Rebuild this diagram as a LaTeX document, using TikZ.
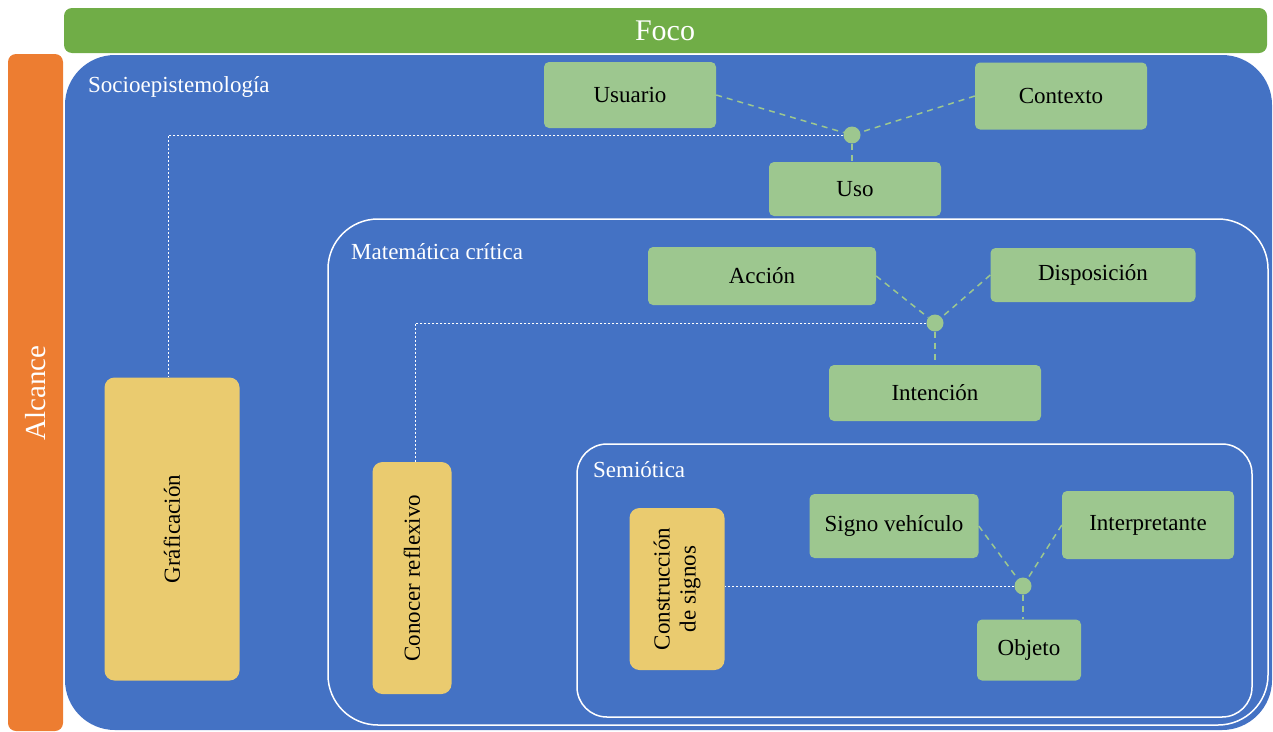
\documentclass[tikz,border=0pt]{standalone}
\usepackage{fontspec}
\setmainfont{Liberation Serif}
\definecolor{fondo}{HTML}{4472C4}
\definecolor{barra}{HTML}{70AD47}
\definecolor{naranja}{HTML}{ED7D31}
\definecolor{verde}{HTML}{9DC78F}
\definecolor{amarillo}{HTML}{EACB6F}
\begin{document}
\begin{tikzpicture}[x=1pt, y=-1pt,
  caja/.style={fill=verde, rounded corners=5pt, inner sep=0pt,
    font=\fontsize{23}{27}\selectfont},
  vertical/.style={fill=amarillo, rounded corners=10pt, inner sep=0pt,
    font=\fontsize{23}{26}\selectfont},
  punto/.style={circle, fill=verde, inner sep=0pt, minimum size=17pt},
  titulo/.style={anchor=west, text=white, inner sep=0pt,
    font=\fontsize{23}{27}\selectfont},
  enlace/.style={verde, line width=1.5pt, dash pattern=on 6pt off 5pt},
  guia/.style={white, line width=0.8pt, dash pattern=on 2pt off 2pt}]
\useasboundingbox (0,0) rectangle (1273,731);

\fill[barra, rounded corners=8pt] (64,8) rectangle (1267,53);
\node[text=white, font=\fontsize{30}{34}\selectfont] (foco) at (665,31) {Foco};
\fill[naranja, rounded corners=8pt] (8,54) rectangle (63,731);
\node[text=white, rotate=90, font=\fontsize{29}{33}\selectfont] (alcance) at (36,393) {Alcance};

\fill[fondo, rounded corners=50pt] (65,55) rectangle (1272,730);
\draw[white, line width=1.5pt, rounded corners=50pt] (328,219) rectangle (1268,725);
\draw[white, line width=1.5pt, rounded corners=30pt] (577,444) rectangle (1252,717);

\node[titulo] (socio) at (88,87) {Socioepistemología};
\node[titulo] (mate) at (351,252) {Matemática crítica};
\node[titulo] (semio) at (593,470) {Semiótica};

\node[caja, minimum width=172pt, minimum height=66pt] (usuario) at (630,95) {Usuario};
\node[caja, minimum width=172pt, minimum height=67pt] (contexto) at (1061,96) {Contexto};
\node[caja, minimum width=172pt, minimum height=54pt] (uso) at (855,189) {Uso};
\node[punto] (p1) at (852,135) {};

\node[caja, minimum width=228pt, minimum height=58pt] (accion) at (762,276) {Acción};
\node[caja, minimum width=205pt, minimum height=54pt] (disposicion) at (1093,275) {Disposición};
\node[caja, minimum width=212pt, minimum height=56pt] (intencion) at (935,393) {Intención};
\node[punto] (p2) at (935,323) {};

\node[caja, minimum width=169pt, minimum height=64pt] (signo) at (894,526) {Signo vehículo};
\node[caja, minimum width=172pt, minimum height=68pt] (interpretante) at (1148,525) {Interpretante};
\node[caja, minimum width=104pt, minimum height=61pt] (objeto) at (1029,650) {Objeto};
\node[punto] (p3) at (1023,586) {};

\node[vertical, minimum width=303pt, minimum height=135pt, rotate=90] (graficacion) at (172,529) {Gráficación};
\node[vertical, minimum width=232pt, minimum height=79pt, rotate=90] (conocer) at (412,578) {Conocer reflexivo};
\node[vertical, minimum width=162pt, minimum height=95pt, rotate=90, align=center] (construccion) at (677,589) {Construcción\\de signos};

\draw[enlace] (usuario.east) -- (p1);
\draw[enlace] (contexto.west) -- (p1);
\draw[enlace] (p1) -- (p1 |- uso.north);
\draw[enlace] (accion.east) -- (p2);
\draw[enlace] (disposicion.west) -- (p2);
\draw[enlace] (p2) -- (intencion.north);
\draw[enlace] (signo.east) -- (p3);
\draw[enlace] (interpretante.west) -- (p3);
\draw[enlace] (p3) -- (p3 |- objeto.north);

\draw[guia] (p1.west) -| ([xshift=-4pt]graficacion.east);
\draw[guia] (p2.west) -| ([xshift=3pt]conocer.east);
\draw[guia] (p3.west) -- (construccion.south |- p3);
\end{tikzpicture}
\end{document}
